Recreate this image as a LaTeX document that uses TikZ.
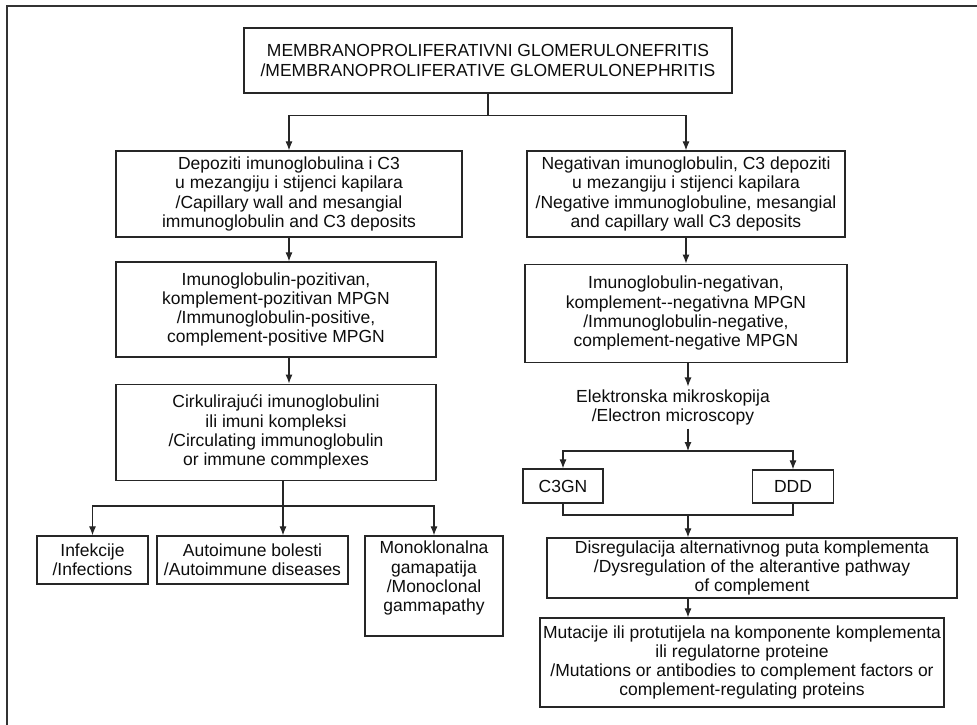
\documentclass[tikz,border=0pt]{standalone}
\usepackage{fontspec}
\setmainfont{Liberation Sans}
\usetikzlibrary{arrows.meta,positioning}

\begin{document}
\begin{tikzpicture}[x=1pt,y=-1pt,>={Latex[length=9pt,width=7pt]},
	every node/.style={font=\fontsize{17.5}{19.3}\selectfont,text=black!95},
	box/.style={draw=black!85,line width=1.2pt,align=center,inner sep=2pt},
	conn/.style={color=black!85,line width=1.1pt}]
	\useasboundingbox (0,0) rectangle (977,725);
	\draw[black!80,line width=2pt] (977,6) -- (7,6) -- (7,725);

	\node[box,minimum width=488pt,minimum height=65pt] (mpgn) at (488,60.5) {MEMBRANOPROLIFERATIVNI GLOMERULONEFRITIS\\/MEMBRANOPROLIFERATIVE GLOMERULONEPHRITIS};
	\node[box,minimum width=346pt,minimum height=86pt] (depL) at (289,194) {Depoziti imunoglobulina i C3\\u mezangiju i stijenci kapilara\\/Capillary wall and mesangial\\immunoglobulin and C3 deposits};
	\node[box,minimum width=318pt,minimum height=86pt] (depR) at (686,194) {Negativan imunoglobulin, C3 depoziti\\u mezangiju i stijenci kapilara\\/Negative immunoglobuline, mesangial\\and capillary wall C3 deposits};
	\node[box,minimum width=320pt,minimum height=95pt] (posL) at (276,309.5) {Imunoglobulin-pozitivan,\\komplement-pozitivan MPGN\\/Immunoglobulin-positive,\\complement-positive MPGN};
	\node[box,minimum width=322pt,minimum height=98pt] (negR) [below=26pt of depR] {Imunoglobulin-negativan,\\komplement-{}-negativna MPGN\\/Immunoglobulin-negative,\\complement-negative MPGN};
	\node[box,minimum width=320pt,minimum height=96pt] (circ) [below=26pt of posL] {Cirkulirajući imunoglobulini\\ili imuni kompleksi\\/Circulating immunoglobulin\\or immune commplexes};
	\node[align=center,inner sep=3pt] (em) at (673,407.5) {Elektronska mikroskopija\\/Electron microscopy};
	\node[box,minimum width=80pt,minimum height=34pt] (c3gn) at (563,486) {C3GN};
	\node[box,minimum width=81pt,minimum height=33pt] (ddd) at (793,486.5) {DDD};
	\node[box,minimum width=410pt,minimum height=60pt] (disreg) at (752,568) {Disregulacija alternativnog puta komplementa\\/Dysregulation of the alterantive pathway\\of complement};
	\node[box,minimum width=404pt,minimum height=89pt] (mut) at (742,662.5) {Mutacije ili protutijela na komponente komplementa\\ili regulatorne proteine\\/Mutations or antibodies to complement factors or\\complement-regulating proteins};
	\node[box,minimum width=111pt,minimum height=48pt] (inf) at (92.5,560) {Infekcije\\/Infections};
	\node[box,minimum width=191pt,minimum height=48pt] (auto) at (252.5,560) {Autoimune bolesti\\/Autoimmune diseases};
	\node[box,minimum width=138pt,minimum height=100pt] (mono) at (434,586) {Monoklonalna\\gamapatija\\/Monoclonal\\gammapathy\\ \mbox{}};

	\coordinate[below=22pt of mpgn.south] (j1);
	\coordinate (j2) at (688,451);
	\coordinate (j3) at (688,515);
	\coordinate (j4) at (283,506);

	% forks and joins
	\draw[conn] (mpgn) -- (j1);
	\draw[conn,<->] (depL) |- (j1) -| (depR);
	\draw[conn,<->] (c3gn) |- (j2) -| (ddd);
	\draw[conn] (c3gn) |- (j3) -| (ddd);
	\draw[conn,<->] (inf) |- (j4) -| (mono);
	% straight arrows
	\path[conn,->]
	(depL.south) edge (depL.south |- posL.north)
	(depL.south |- posL.south) edge (depL.south |- circ.north)
	(depR) edge (negR)
	(j2 |- negR.south) edge (j2 |- em.north)
	(j2 |- em.south) edge (j2)
	(j3) edge (j3 |- disreg.north)
	(j3 |- disreg.south) edge (j3 |- mut.north)
	(j4 |- circ.south) edge (j4 |- auto.north)
	;
\end{tikzpicture}
\end{document}
